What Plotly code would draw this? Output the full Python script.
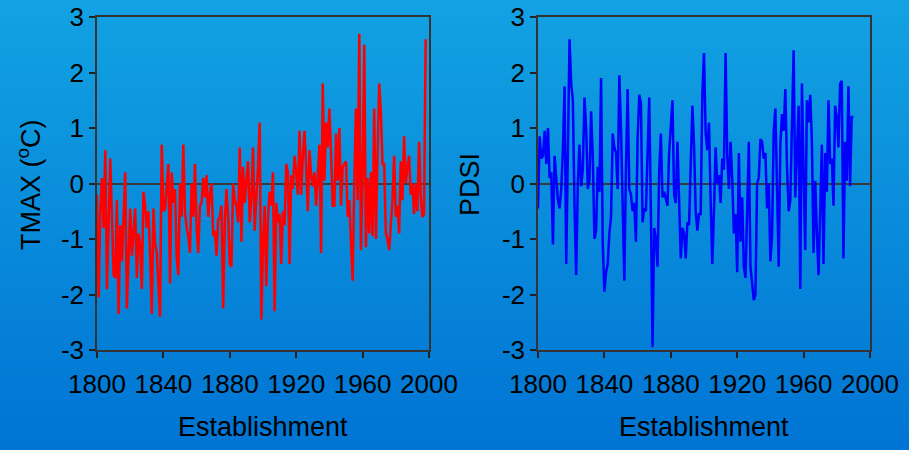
import plotly.graph_objects as go

# Annual maximum-temperature anomaly (deg C), 1800-1998
tmax_years = list(range(1800, 1999))
tmax_values = [
    -0.2, -2.05, -0.5, 0.1, -0.8, 0.6, -1.9, -0.6, 0.45, -0.6,
    -1.65, -1.7, -0.3, -2.35, -0.75, -1.4, -0.6, 0.2, -2.25, -1.45,
    -0.45, -1.3, -0.9, -0.45, -1.7, -0.9, -1.1, -1.9, -0.15, -0.4,
    -0.8, -0.5, -1.3, -2.35, -0.45, -1.1, -1.25, -1.8, -2.4, 0.7,
    -0.5, -0.45, 0.0, 0.35, -1.8, 0.2, -0.35, -0.1, -1.35, -1.65,
    0.0, -0.6, 0.7, -0.5, -0.8, -0.95, -1.25, 0.0, -0.6, 0.35,
    -0.8, -1.25, -0.4, -0.35, 0.1, -0.25, 0.15, -0.6, -0.2, 0.0,
    -0.95, -0.85, -1.3, -0.65, -0.6, -0.4, -2.25, -0.7, -0.1, -0.6,
    -1.45, -1.5, 0.0, -0.3, -0.4, -0.7, 0.65, -1.05, 0.3, -0.35,
    0.05, 0.4, -0.7, -0.25, 0.65, -0.85, -0.25, 0.3, 1.1, -2.45,
    -1.1, -0.4, -1.85, -0.6, -0.15, -0.4, 0.2, -2.3, -0.35, -0.7,
    -0.55, -1.45, -0.5, -0.75, 0.35, 0.2, -1.45, 0.15, -0.1, 0.5,
    0.2, -0.2, 0.95, -0.2, 0.5, 0.95, 0.3, -0.5, 0.6, 0.15,
    -0.05, 0.2, -0.4, 0.1, 0.7, -1.25, 1.8, 0.05, 1.1, 0.65,
    1.35, 0.55, -0.4, -0.4, 0.9, 0.05, 1.0, -0.4, 0.3, 0.35,
    0.4, -0.6, -0.3, -1.05, -1.75, 0.0, 1.35, -0.3, 2.7, -1.2,
    0.1, 2.5, -1.15, 0.1, -0.9, 0.2, -0.95, 1.35, -1.0, 0.5,
    1.8, 1.3, 0.35, 0.35, -0.9, -1.0, -1.2, -0.75, -0.3, 0.5,
    -0.6, -0.4, -0.9, 0.4, -0.3, 0.85, 0.0, 0.3, 0.5, -0.2,
    0.0, -0.55, 0.0, -0.5, 0.75, -0.2, -0.6, -0.55, 2.6,
]

# Palmer Drought Severity Index, 1800-1990
pdsi_years = list(range(1800, 1991))
pdsi_values = [
    -0.45, 0.85, 0.45, 0.5, 0.95, 0.35, 1.0, 0.1, 0.2, -1.1,
    0.5, 0.0, -0.3, -0.45, -0.1, 0.6, 1.75, -1.45, 0.5, 2.6,
    1.8, 1.5, -0.4, -1.65, 0.0, 0.7, -0.05, 0.25, 1.55, 1.0,
    -0.1, 0.05, 1.3, 0.5, -1.0, -0.85, 0.3, -0.15, 1.9, -1.1,
    -1.95, -1.6, -1.45, -0.9, -0.6, 0.9, 0.65, 0.55, -0.1, 1.95,
    1.0, -0.7, -1.75, 0.3, 1.7, -0.1, -0.2, -0.5, -0.35, -1.05,
    0.8, 1.6, 1.45, -0.7, -0.45, -0.5, 0.8, 1.55, -0.5, -2.95,
    -0.8, -1.0, -1.5, 0.2, 0.9, -0.25, -0.15, -0.3, -0.4, 0.55,
    1.0, 1.5, -0.2, -0.35, 0.75, -0.4, -1.35, -0.8, -0.9, -1.35,
    -0.7, -0.75, 0.2, 1.4, 0.7, -0.5, -0.85, -0.55, -0.55, 1.6,
    2.35, 0.9, 0.6, 1.1, -0.3, -1.45, -0.5, 0.65, 0.0, 0.15,
    -0.35, 0.45, 0.25, 2.35, 0.5, -0.1, 0.75, 0.1, -0.9, -0.55,
    -1.6, 0.55, -1.05, -0.25, -1.5, -1.7, -0.5, 0.75, -1.5, -1.8,
    -2.1, -2.0, 0.0, 0.1, 0.8, 0.75, 0.45, 0.55, -0.45, 0.0,
    -1.4, -0.95, 0.95, 1.35, 0.0, -1.5, 0.7, 1.25, 0.95, 1.7,
    0.3, -0.5, -0.3, 1.0, 2.4, -0.25, 0.7, 1.4, -1.9, 1.8,
    0.2, -1.2, 1.5, 1.1, 1.6, 0.75, -1.25, 0.05, -0.9, -1.65,
    -0.5, 0.7, -1.45, 0.55, -0.15, 1.5, 0.35, 0.45, -0.4, 1.4,
    1.2, 0.65, 1.8, 1.85, -1.35, 0.75, 0.05, 1.75, -0.05, 1.2,
    1.2,
]

x_ticks = [1800, 1840, 1880, 1920, 1960, 2000]
x_tick_labels = ["1800", "1840", "1880", "1920", "1960", "2000"]
y_ticks = [-3, -2, -1, 0, 1, 2, 3]
y_tick_labels = ["-3", "-2", "-1", "0", "1", "2", "3"]

FONT = "Liberation Sans, Arial, sans-serif"
W, H = 909, 450

fig = go.Figure()

# Blue vertical gradient behind everything, built from thin horizontal bands
top_rgb = (18, 162, 226)
bot_rgb = (0, 116, 212)
n_bands = 90
for i in range(n_bands):
    t = i / (n_bands - 1)
    r = round(top_rgb[0] + (bot_rgb[0] - top_rgb[0]) * t)
    g = round(top_rgb[1] + (bot_rgb[1] - top_rgb[1]) * t)
    b = round(top_rgb[2] + (bot_rgb[2] - top_rgb[2]) * t)
    y1 = 1 - i / n_bands
    y0 = 1 - (i + 1) / n_bands - 0.002
    fig.add_shape(type="rect", xref="paper", yref="paper",
                  x0=0, x1=1, y0=y0, y1=y1, layer="below",
                  line=dict(width=0), fillcolor=f"rgb({r},{g},{b})")

fig.add_trace(go.Scatter(x=tmax_years, y=tmax_values, mode="lines",
                         line=dict(color="#ff0000", width=2.5),
                         xaxis="x", yaxis="y", showlegend=False))
fig.add_trace(go.Scatter(x=pdsi_years, y=pdsi_values, mode="lines",
                         line=dict(color="#0000ff", width=2.5),
                         xaxis="x2", yaxis="y2", showlegend=False))

tick_font = dict(family=FONT, size=26, color="black")

xdom1 = [97 / W, 429 / W]
xdom2 = [538 / W, 870 / W]
ydom = [1 - 350 / H, 1 - 17 / H]

common_x = dict(range=[1800, 2000], tickvals=x_ticks, ticktext=x_tick_labels,
                ticks="outside", ticklen=6, tickwidth=1.5, tickcolor="#222222",
                ticklabelstandoff=4,
                showline=True, linecolor="#333333", linewidth=1.5,
                mirror=True, showgrid=False, zeroline=False,
                tickfont=tick_font, automargin=False, fixedrange=True)
common_y = dict(range=[-3, 3], tickvals=y_ticks, ticktext=y_tick_labels,
                ticks="outside", ticklen=6, tickwidth=1.5, tickcolor="#222222",
                showline=True, linecolor="#333333", linewidth=1.5,
                mirror=True, showgrid=False, zeroline=True,
                zerolinecolor="#3a3a3a", zerolinewidth=1.5,
                tickfont=tick_font, automargin=False, fixedrange=True)

fig.update_layout(
    width=W, height=H,
    margin=dict(l=0, r=0, t=0, b=0),
    paper_bgcolor="#0a8cdc",
    plot_bgcolor="#eafcc0",
    xaxis=dict(domain=xdom1, anchor="y", **common_x),
    yaxis=dict(domain=ydom, anchor="x", **common_y),
    xaxis2=dict(domain=xdom2, anchor="y2", **common_x),
    yaxis2=dict(domain=ydom, anchor="x2", **common_y),
)

title_font = dict(family=FONT, size=27, color="black")
fig.add_annotation(text="Establishment", xref="paper", yref="paper",
                   x=(xdom1[0] + xdom1[1]) / 2, y=1 - 427 / H,
                   showarrow=False, font=title_font,
                   xanchor="center", yanchor="middle")
fig.add_annotation(text="Establishment", xref="paper", yref="paper",
                   x=(xdom2[0] + xdom2[1]) / 2, y=1 - 427 / H,
                   showarrow=False, font=title_font,
                   xanchor="center", yanchor="middle")
fig.add_annotation(text="TMAX (<sup>o</sup>C)", xref="paper", yref="paper",
                   x=29 / W, y=1 - 185 / H, textangle=-90,
                   showarrow=False, font=title_font,
                   xanchor="center", yanchor="middle")
fig.add_annotation(text="PDSI", xref="paper", yref="paper",
                   x=470 / W, y=1 - 184 / H, textangle=-90,
                   showarrow=False, font=title_font,
                   xanchor="center", yanchor="middle")

fig.write_html("out.html", config=dict(displayModeBar=False))
